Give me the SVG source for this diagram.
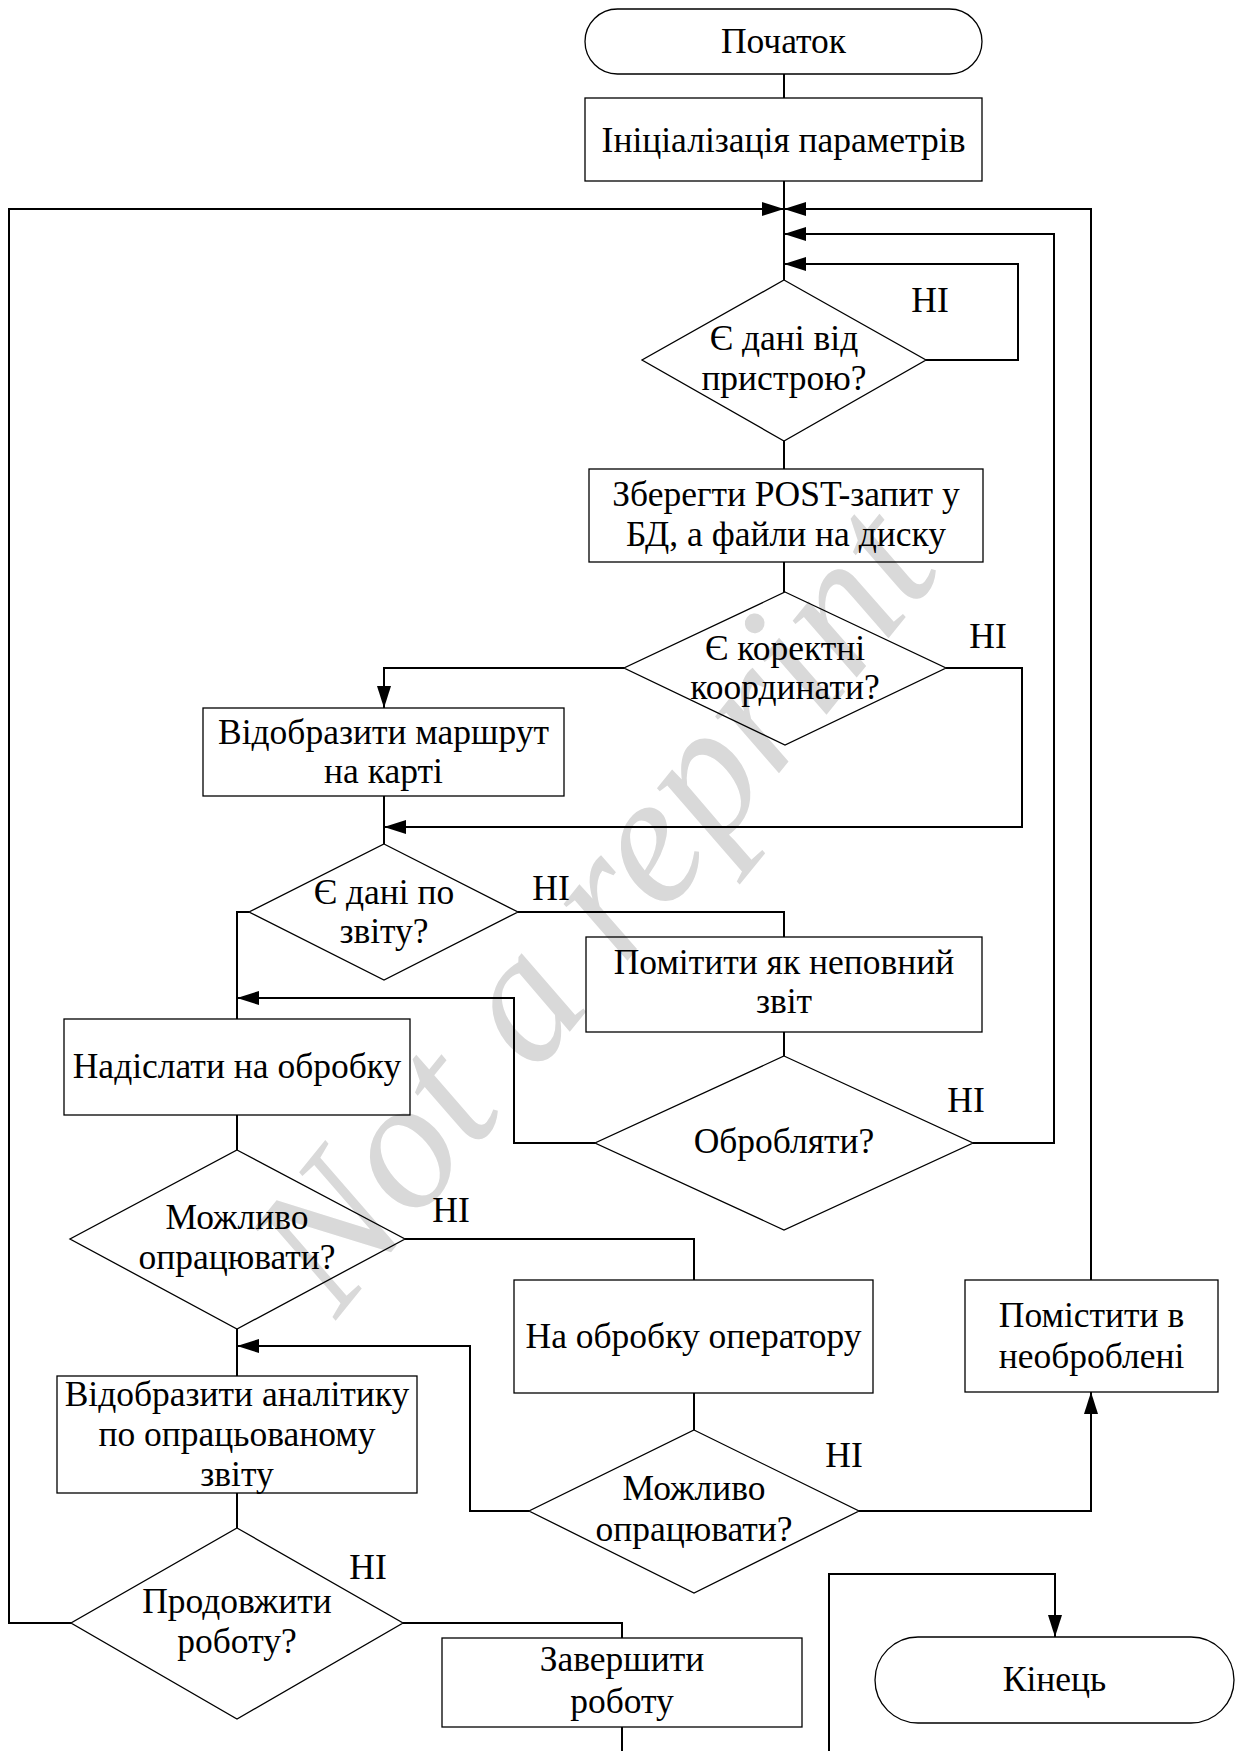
<svg xmlns="http://www.w3.org/2000/svg" width="1236" height="1751" viewBox="0 0 1236 1751">
<style>
.shape{fill:none;stroke:#000;stroke-width:1.3}
.conn{fill:none;stroke:#000;stroke-width:2}
.t{font-family:"Liberation Serif","Times New Roman",serif;font-size:35.5px;fill:#000;text-anchor:middle}
.wm{font-family:"Liberation Serif","Times New Roman",serif;font-style:italic;font-size:186px;fill:#d9d9d9;text-anchor:middle}
</style>
<defs>
<marker id="arr" markerUnits="userSpaceOnUse" markerWidth="22" markerHeight="14" refX="22" refY="7" orient="auto">
<path d="M0,0 L22,7 L0,14 z" fill="#000"/>
</marker>
</defs>
<rect width="1236" height="1751" fill="#fff"/>
<text class="wm" x="640" y="945" transform="rotate(-51 640 945)">Not a reprint</text>

<g id="connectors">
<path class="conn" d="M784,74 V98"/>
<path class="conn" d="M784,181 V280"/>
<path class="conn" d="M71,1623 H9 V209 H784" marker-end="url(#arr)"/>
<path class="conn" d="M1091,1280 V209 H784" marker-end="url(#arr)"/>
<path class="conn" d="M973,1143 H1054 V234 H784" marker-end="url(#arr)"/>
<path class="conn" d="M926,360 H1018 V264 H784" marker-end="url(#arr)"/>
<path class="conn" d="M784,441 V469"/>
<path class="conn" d="M784,562 V592"/>
<path class="conn" d="M624,668 H384 V708" marker-end="url(#arr)"/>
<path class="conn" d="M946,668 H1022 V827 H384" marker-end="url(#arr)"/>
<path class="conn" d="M384,796 V844"/>
<path class="conn" d="M518,912 H784 V937"/>
<path class="conn" d="M249,912 H237 V1019"/>
<path class="conn" d="M784,1032 V1056"/>
<path class="conn" d="M595,1143 H514 V998 H237" marker-end="url(#arr)"/>
<path class="conn" d="M237,1115 V1150"/>
<path class="conn" d="M405,1239 H694 V1280"/>
<path class="conn" d="M237,1329 V1376"/>
<path class="conn" d="M694,1393 V1430"/>
<path class="conn" d="M529,1511 H470 V1346 H237" marker-end="url(#arr)"/>
<path class="conn" d="M859,1511 H1091 V1392" marker-end="url(#arr)"/>
<path class="conn" d="M237,1493 V1528"/>
<path class="conn" d="M403,1623 H622 V1638"/>
<path class="conn" d="M622,1727 V1751"/>
<path class="conn" d="M829,1751 V1574 H1055 V1637" marker-end="url(#arr)"/>
</g>

<g id="n-start">
<rect class="shape" x="585" y="9" width="397" height="65" rx="32.5" ry="32.5"/>
<text class="t" x="783.5" y="53">Початок</text>
</g>
<g id="n-init">
<rect class="shape" x="585" y="98" width="397" height="83"/>
<text class="t" x="783.5" y="152">Ініціалізація параметрів</text>
</g>
<g id="n-d1">
<polygon class="shape" points="784,280 926,360 784,441 642,360"/>
<text class="t" x="784" y="350">Є дані від</text>
<text class="t" x="784" y="390">пристрою?</text>
<text class="t" x="930" y="312">НІ</text>
</g>
<g id="n-save">
<rect class="shape" x="589" y="469" width="394" height="93"/>
<text class="t" x="786" y="506">Зберегти POST-запит у</text>
<text class="t" x="786" y="546">БД, а файли на диску</text>
</g>
<g id="n-d2">
<polygon class="shape" points="785,592 946,668 785,745 624,668"/>
<text class="t" x="785" y="660">Є коректні</text>
<text class="t" x="785" y="699">координати?</text>
<text class="t" x="988" y="648">НІ</text>
</g>
<g id="n-route">
<rect class="shape" x="203" y="708" width="361" height="88"/>
<text class="t" x="383.5" y="744">Відобразити маршрут</text>
<text class="t" x="383.5" y="783">на карті</text>
</g>
<g id="n-d3">
<polygon class="shape" points="384,844 518,912 384,980 249,912"/>
<text class="t" x="384" y="904">Є дані по</text>
<text class="t" x="384" y="943">звіту?</text>
<text class="t" x="551" y="900">НІ</text>
</g>
<g id="n-mark">
<rect class="shape" x="586" y="937" width="396" height="95"/>
<text class="t" x="784" y="974">Помітити як неповний</text>
<text class="t" x="784" y="1013">звіт</text>
</g>
<g id="n-send">
<rect class="shape" x="64" y="1019" width="346" height="96"/>
<text class="t" x="237" y="1078">Надіслати на обробку</text>
</g>
<g id="n-d4">
<polygon class="shape" points="784,1056 973,1143 784,1230 595,1143"/>
<text class="t" x="784" y="1153">Обробляти?</text>
<text class="t" x="966" y="1112">НІ</text>
</g>
<g id="n-d5">
<polygon class="shape" points="237,1150 405,1239 237,1329 70,1239"/>
<text class="t" x="237" y="1229">Можливо</text>
<text class="t" x="237" y="1269">опрацювати?</text>
<text class="t" x="451" y="1222">НІ</text>
</g>
<g id="n-operator">
<rect class="shape" x="514" y="1280" width="359" height="113"/>
<text class="t" x="693.5" y="1348">На обробку оператору</text>
</g>
<g id="n-unproc">
<rect class="shape" x="965" y="1280" width="253" height="112"/>
<text class="t" x="1091.5" y="1327">Помістити в</text>
<text class="t" x="1091.5" y="1368">необроблені</text>
</g>
<g id="n-analytics">
<rect class="shape" x="57" y="1376" width="360" height="117"/>
<text class="t" x="237" y="1406">Відобразити аналітику</text>
<text class="t" x="237" y="1446">по опрацьованому</text>
<text class="t" x="237" y="1486">звіту</text>
</g>
<g id="n-d6">
<polygon class="shape" points="694,1430 859,1511 694,1593 529,1511"/>
<text class="t" x="694" y="1500">Можливо</text>
<text class="t" x="694" y="1541">опрацювати?</text>
<text class="t" x="844" y="1467">НІ</text>
</g>
<g id="n-d7">
<polygon class="shape" points="237,1528 403,1623 237,1719 71,1623"/>
<text class="t" x="237" y="1613">Продовжити</text>
<text class="t" x="237" y="1653">роботу?</text>
<text class="t" x="368" y="1579">НІ</text>
</g>
<g id="n-finish">
<rect class="shape" x="442" y="1638" width="360" height="89"/>
<text class="t" x="622" y="1671">Завершити</text>
<text class="t" x="622" y="1713">роботу</text>
</g>
<g id="n-end">
<rect class="shape" x="875" y="1637" width="359" height="86" rx="43" ry="43"/>
<text class="t" x="1054.5" y="1691">Кінець</text>
</g>
</svg>
